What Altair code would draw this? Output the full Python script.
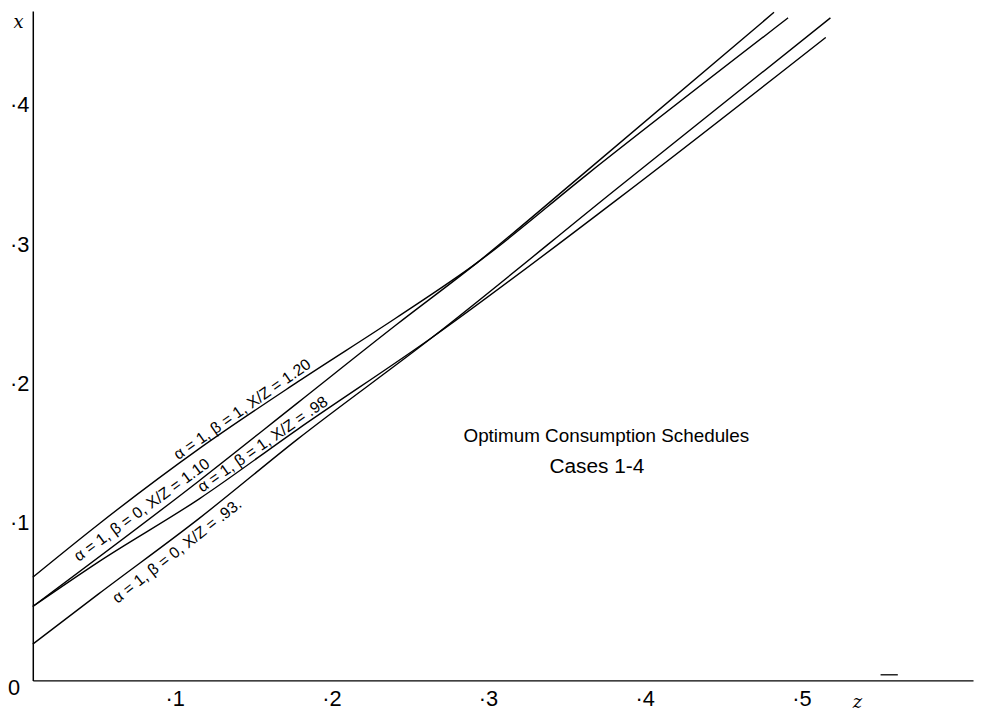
import altair as alt
import pandas as pd

# ---- curves (z = horizontal, x = vertical) ----
z_120 = [0.000, 0.042, 0.106, 0.169, 0.232, 0.283, 0.354, 0.482]
x_120 = [0.074, 0.112, 0.166, 0.214, 0.260, 0.299, 0.363, 0.475]

z_110 = [0.000, 0.106, 0.169, 0.232, 0.283, 0.349, 0.473]
x_110 = [0.053, 0.143, 0.199, 0.255, 0.299, 0.361, 0.479]

z_098 = [0.000, 0.042, 0.106, 0.169, 0.255, 0.372, 0.506]
x_098 = [0.053, 0.085, 0.130, 0.180, 0.246, 0.344, 0.461]

z_093 = [0.000, 0.042, 0.106, 0.169, 0.255, 0.372, 0.509]
x_093 = [0.026, 0.062, 0.116, 0.173, 0.246, 0.352, 0.475]

series_names = ["1.20", "1.10", ".98", ".93"]

# ---- curve labels ----
label_text = ["α = 1, β = 1, X/Z = 1.20", "α = 1, β = 0, X/Z = 1.10",
              "α = 1, β = 1, X/Z = .98", "α = 1, β = 0, X/Z = .93."]
label_z = [0.137, 0.073, 0.150, 0.087]
label_x = [0.189, 0.117, 0.164, 0.100]
label_angle = [325, 324, 325, 322]
label_side = ["above", "above", "above", "below"]

title_lines = ["Optimum Consumption Schedules", "Cases 1-4"]
title_z = [0.366, 0.360]
title_x = [0.175, 0.153]
title_size = [19, 21]

# small hand mark just above the z axis
mark_z = [0.541]
mark_z2 = [0.552]
mark_x = [0.004]

x_ticks = [0.1, 0.2, 0.3, 0.4, 0.5]
y_ticks = [0.1, 0.2, 0.3, 0.4]

FONT = "Liberation Sans"

rows = []
for name, zs, xs in zip(series_names, [z_120, z_110, z_098, z_093],
                        [x_120, x_110, x_098, x_093]):
    for i, (zz, xx) in enumerate(zip(zs, xs)):
        rows.append({"series": name, "z": zz, "x": xx, "i": i})
curves = pd.DataFrame(rows)

labels = pd.DataFrame({"text": label_text, "z": label_z, "x": label_x,
                       "angle": label_angle, "side": label_side})
titles = pd.DataFrame({"text": title_lines, "z": title_z, "x": title_x,
                       "size": title_size})
marks = pd.DataFrame({"z": mark_z, "z2": mark_z2, "x": mark_x})

xscale = alt.Scale(domain=[0, 0.6], nice=False, zero=False)
yscale = alt.Scale(domain=[0, 0.48], nice=False, zero=False)

label_expr = "'·' + replace(format(datum.value, '.1f'), '0.', '')"

lines = alt.Chart(curves).mark_line(color="black", strokeWidth=1.4,
                                    interpolate="monotone").encode(
    x=alt.X("z:Q", scale=xscale,
            axis=alt.Axis(values=x_ticks, labelExpr=label_expr, title="z",
                          titleX=831, titleY=22, titleAngle=0,
                          titleAlign="center", titleBaseline="middle",
                          titleFont="DejaVu Serif", titleFontStyle="italic",
                          titleFontWeight="normal", titleFontSize=18,
                          labelOffset=-15, labelPadding=8, labelBaseline="top")),
    y=alt.Y("x:Q", scale=yscale,
            axis=alt.Axis(values=y_ticks, labelExpr=label_expr, title="x",
                          titleX=-15, titleY=12, titleAngle=0,
                          titleAlign="center", titleBaseline="middle",
                          titleFont="DejaVu Serif", titleFontStyle="italic",
                          titleFontWeight="normal", titleFontSize=18,
                          labelOffset=-18, labelPadding=4)),
    detail="series:N",
    order="i:Q",
)

above = alt.Chart(labels).transform_filter(alt.datum.side == "above").mark_text(
    font=FONT, fontSize=16, baseline="alphabetic", align="center", dy=-4,
    color="black").encode(
    x=alt.X("z:Q", scale=xscale), y=alt.Y("x:Q", scale=yscale),
    text="text:N", angle=alt.Angle("angle:Q", scale=None))

below = alt.Chart(labels).transform_filter(alt.datum.side == "below").mark_text(
    font=FONT, fontSize=16, baseline="top", align="center", dy=5,
    color="black").encode(
    x=alt.X("z:Q", scale=xscale), y=alt.Y("x:Q", scale=yscale),
    text="text:N", angle=alt.Angle("angle:Q", scale=None))

title_marks = alt.Chart(titles).mark_text(
    font=FONT, baseline="middle", align="center",
    color="black").encode(
    x=alt.X("z:Q", scale=xscale), y=alt.Y("x:Q", scale=yscale), text="text:N",
    size=alt.Size("size:Q", scale=None, legend=None))

origin = alt.Chart(pd.DataFrame({"z": [0.0], "x": [0.0], "t": ["0"]})).mark_text(
    font=FONT, fontSize=22, baseline="middle", align="center", dx=-19, dy=8,
    color="black").encode(
    x=alt.X("z:Q", scale=xscale), y=alt.Y("x:Q", scale=yscale), text="t:N")

hand_mark = alt.Chart(marks).mark_rule(color="black", strokeWidth=1.3).encode(
    x=alt.X("z:Q", scale=xscale), x2="z2:Q", y=alt.Y("x:Q", scale=yscale))

chart = alt.layer(lines, above, below, title_marks, origin, hand_mark).properties(
    width=948, height=675,
    autosize=alt.AutoSizeParams(type="none"),
    padding={"left": 25, "top": 0, "right": 3, "bottom": 36},
).configure_view(stroke=None).configure_axis(
    domainColor="black", domainWidth=1.5, ticks=False, grid=False,
    labelFont=FONT, labelFontSize=22, labelColor="black",
    titleColor="black",
)

chart.save("out.html", embed_options={"renderer": "svg", "actions": False})
